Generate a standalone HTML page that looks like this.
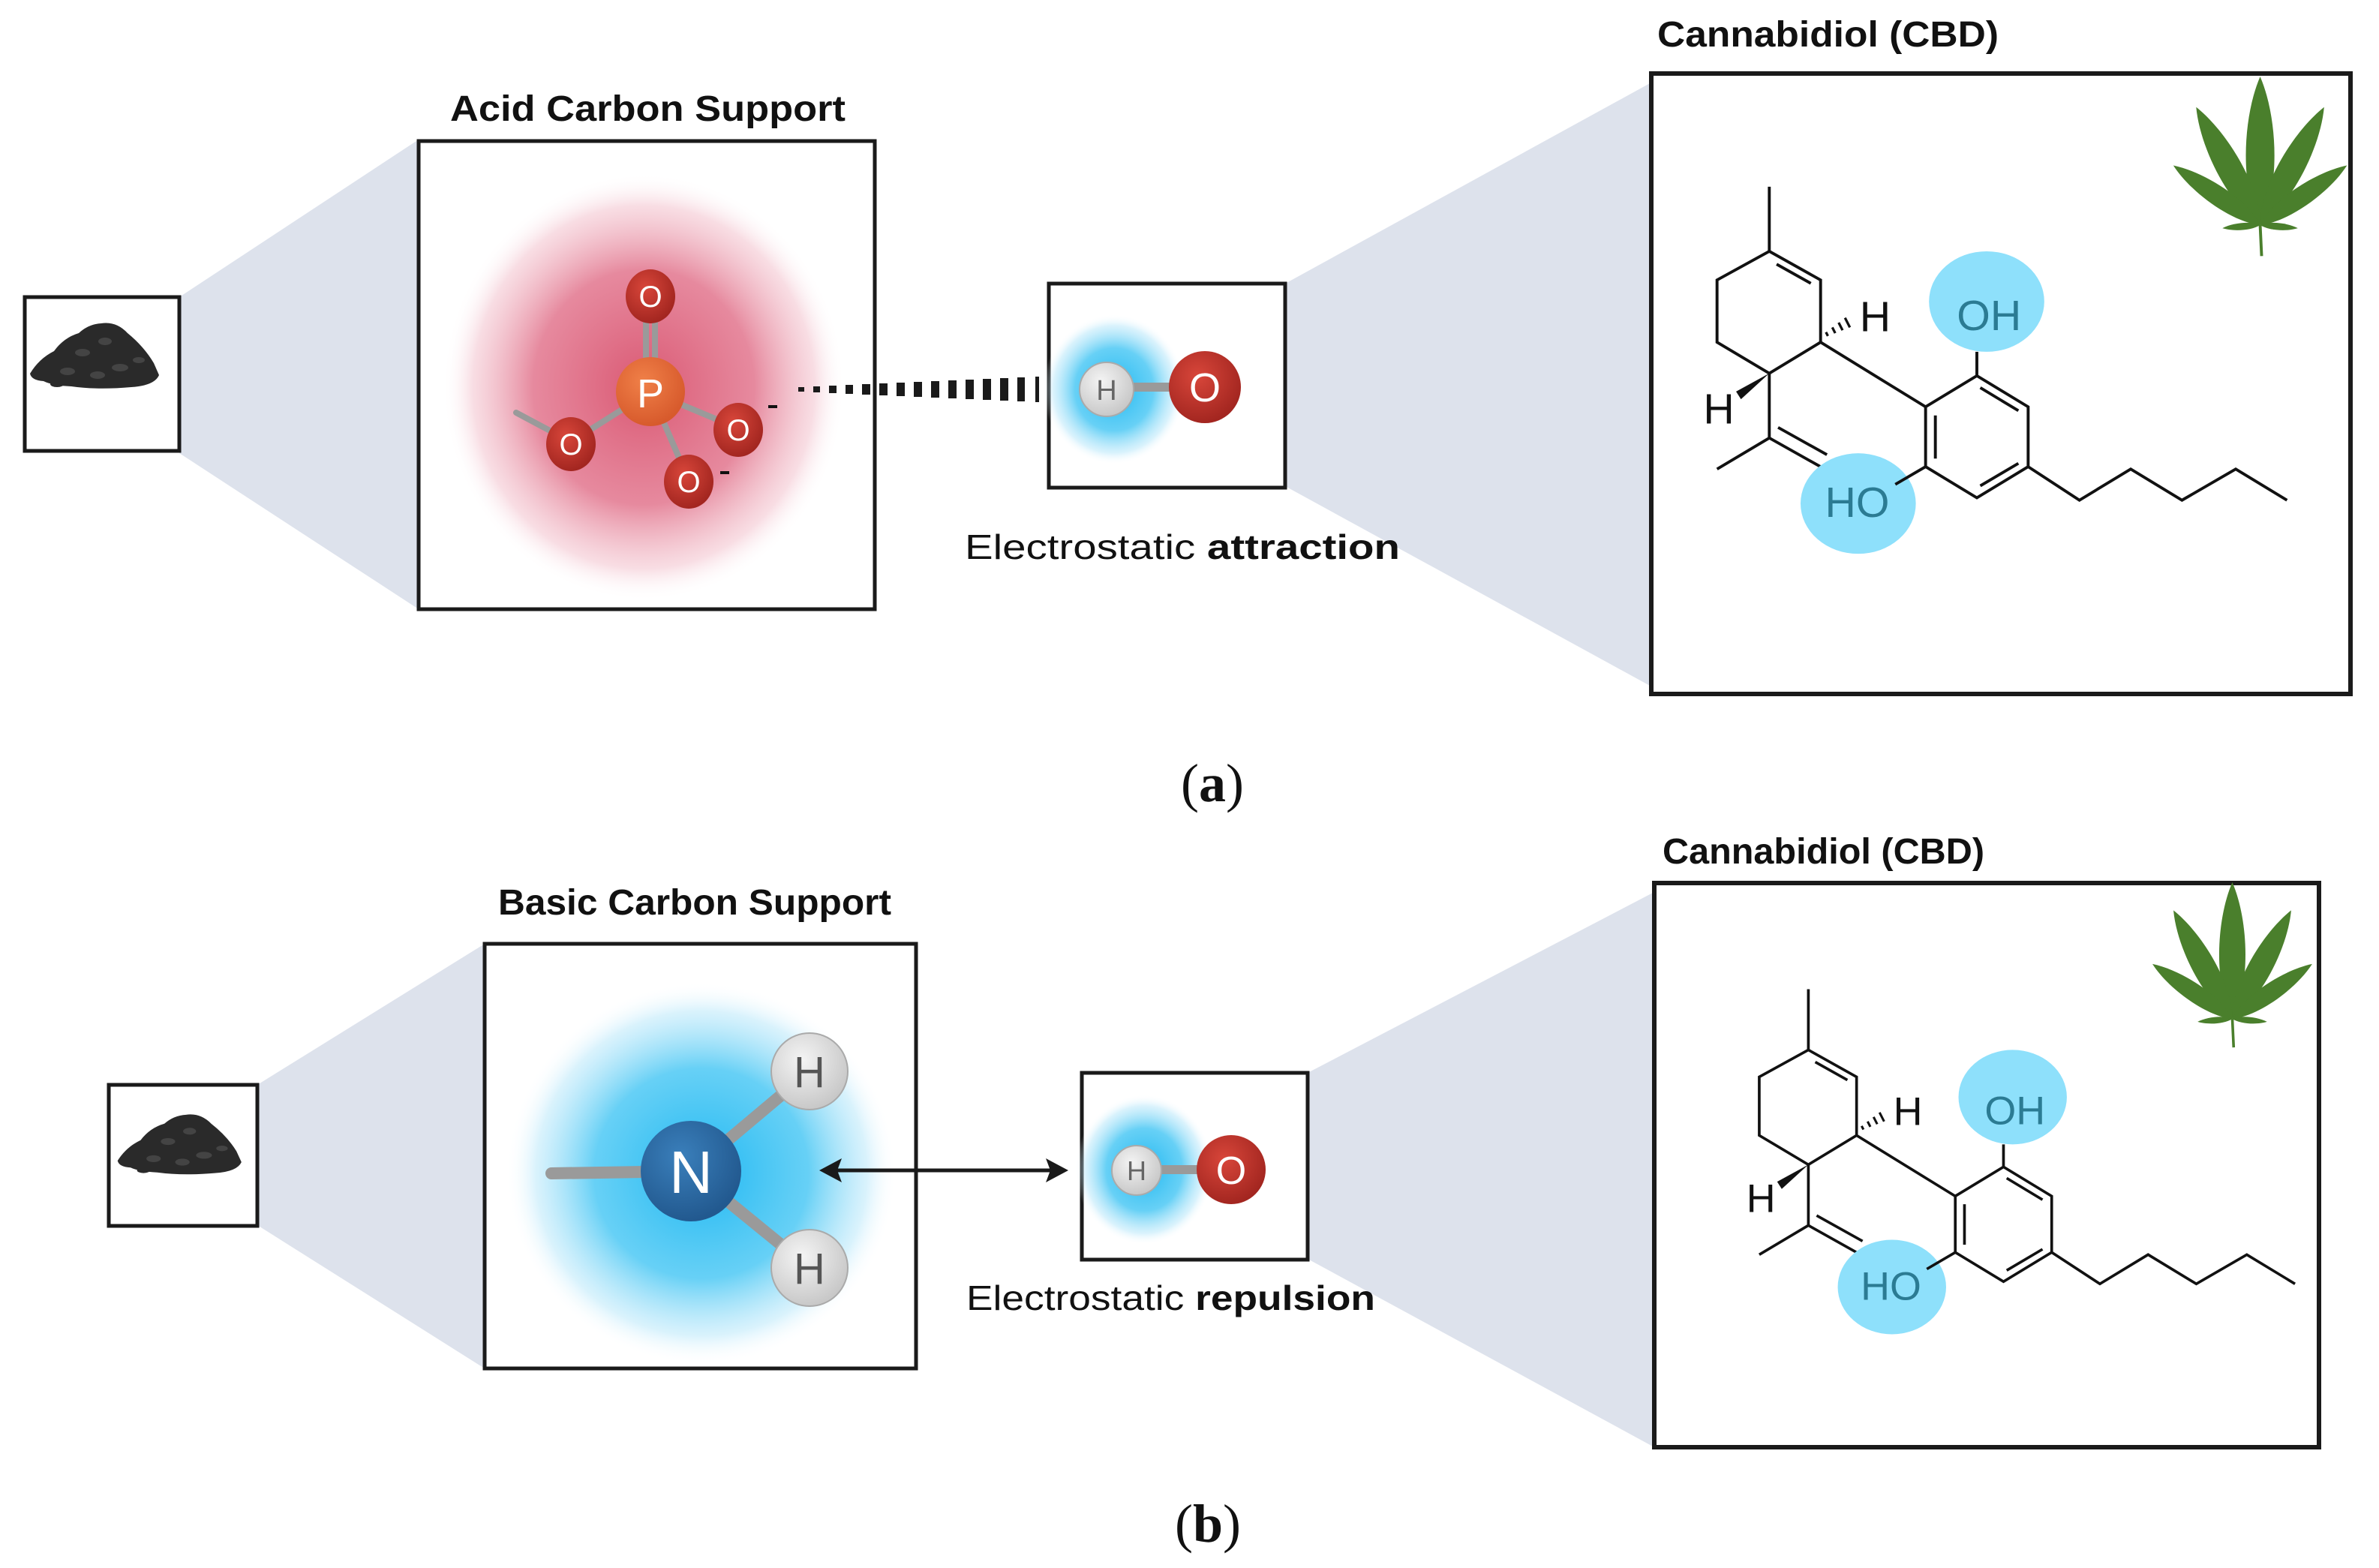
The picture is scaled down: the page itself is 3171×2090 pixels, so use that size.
<!DOCTYPE html>
<html><head><meta charset="utf-8"><style>
html,body{margin:0;padding:0;background:#fff;}
svg{display:block;}
</style></head><body>
<svg width="3171" height="2090" viewBox="0 0 3171 2090" xmlns="http://www.w3.org/2000/svg">
<defs>
<radialGradient id="pink" cx="50%" cy="50%" r="50%">
<stop offset="0" stop-color="#d8506c" stop-opacity="0.95"/>
<stop offset="0.55" stop-color="#e06c86" stop-opacity="0.8"/>
<stop offset="0.85" stop-color="#f0b4c2" stop-opacity="0.45"/>
<stop offset="1" stop-color="#ffffff" stop-opacity="0"/>
</radialGradient>
<radialGradient id="blue" cx="50%" cy="50%" r="50%">
<stop offset="0" stop-color="#20b8f2" stop-opacity="1"/>
<stop offset="0.55" stop-color="#4cc8f4" stop-opacity="0.85"/>
<stop offset="0.85" stop-color="#b4e6fa" stop-opacity="0.5"/>
<stop offset="1" stop-color="#ffffff" stop-opacity="0"/>
</radialGradient>
<radialGradient id="oball" cx="40%" cy="35%" r="65%">
<stop offset="0" stop-color="#d8463a"/><stop offset="1" stop-color="#a32620"/>
</radialGradient>
<radialGradient id="hball" cx="40%" cy="35%" r="65%">
<stop offset="0" stop-color="#f4f4f4"/><stop offset="1" stop-color="#c8c8c8"/>
</radialGradient>
<radialGradient id="pball" cx="40%" cy="35%" r="65%">
<stop offset="0" stop-color="#f08048"/><stop offset="1" stop-color="#d75a2c"/>
</radialGradient>
<radialGradient id="nball" cx="40%" cy="35%" r="65%">
<stop offset="0" stop-color="#3a7fbb"/><stop offset="1" stop-color="#22598f"/>
</radialGradient>
<g id="leaflet"><path d="M0,0 C40,-70 38,-220 0,-310 C-38,-220 -40,-70 0,0Z" fill="#4a7f2c"/></g>
<g id="leaf">
<use href="#leaflet"/>
<use href="#leaflet" transform="rotate(-28) scale(0.9)"/>
<use href="#leaflet" transform="rotate(28) scale(0.9)"/>
<use href="#leaflet" transform="rotate(-55) scale(0.7)"/>
<use href="#leaflet" transform="rotate(55) scale(0.7)"/>
<use href="#leaflet" transform="rotate(-95) scale(0.25)"/>
<use href="#leaflet" transform="rotate(95) scale(0.25)"/>
<line x1="0" y1="0" x2="3" y2="65" stroke="#4a7f2c" stroke-width="6"/>
</g>
<g id="pile">
<path d="M40,498 Q52,478 72,468 Q85,450 105,444 Q118,432 135,431 Q155,428 170,444 Q192,462 205,484 L212,500 Q206,514 175,516 Q130,520 95,515 Q70,514 58,508 Q42,507 40,498Z" fill="#2a2a2a"/>
<ellipse cx="76" cy="512" rx="9" ry="4" fill="#2a2a2a"/>
<g fill="#444"><ellipse cx="110" cy="470" rx="10" ry="5"/><ellipse cx="140" cy="455" rx="9" ry="5"/><ellipse cx="160" cy="490" rx="11" ry="5"/><ellipse cx="90" cy="495" rx="10" ry="5"/><ellipse cx="130" cy="500" rx="10" ry="5"/><ellipse cx="185" cy="480" rx="8" ry="4"/></g>
</g>
</defs>

<g fill="#dde2ec">
<polygon points="239,396 558,186 558,812 239,604"/>
<polygon points="1713,378 2201,110 2201,915 1713,648"/>
<polygon points="343,1446 646,1258 646,1824 343,1633"/>
<polygon points="1743,1430 2205,1189 2205,1929 1743,1678"/>
</g>

<!-- ===== (a) ===== -->
<rect x="33" y="396" width="206" height="205" fill="#fff" stroke="#1a1a1a" stroke-width="5"/>
<use href="#pile"/>

<text x="600" y="161" font-family="Liberation Sans, sans-serif" font-weight="bold" font-size="48" textLength="527" lengthAdjust="spacingAndGlyphs" fill="#111">Acid Carbon Support</text>
<rect x="558" y="188" width="608" height="624" fill="#fff" stroke="#1a1a1a" stroke-width="5"/>
<ellipse cx="858" cy="516" rx="268" ry="285" fill="url(#pink)"/>
<g stroke="#9a9a9a" stroke-width="8" stroke-linecap="round">
<line x1="861" y1="430" x2="861" y2="480"/><line x1="873" y1="430" x2="873" y2="480"/>
<line x1="867" y1="522" x2="761" y2="589"/>
<line x1="761" y1="589" x2="688" y2="550"/>
<line x1="867" y1="522" x2="984" y2="571"/>
<line x1="867" y1="522" x2="918" y2="640"/>
</g>
<circle cx="867" cy="522" r="46" fill="url(#pball)"/>
<text x="867" y="543" text-anchor="middle" font-family="Liberation Sans, sans-serif" font-size="54" fill="#fff">P</text>
<g font-family="Liberation Sans, sans-serif" font-size="40" fill="#fff" text-anchor="middle">
<ellipse cx="867" cy="395" rx="33" ry="36" fill="url(#oball)"/><text x="867" y="409">O</text>
<ellipse cx="761" cy="592" rx="33" ry="36" fill="url(#oball)"/><text x="761" y="606">O</text>
<ellipse cx="984" cy="573" rx="33" ry="36" fill="url(#oball)"/><text x="984" y="587">O</text>
<ellipse cx="918" cy="642" rx="33" ry="36" fill="url(#oball)"/><text x="918" y="656">O</text>
</g>
<g stroke="#111" stroke-width="4"><line x1="1024" y1="542" x2="1036" y2="542"/><line x1="960" y1="630" x2="972" y2="630"/></g>

<g fill="#1a1a1a">
<rect x="1064" y="516" width="8" height="6"/>
<rect x="1084" y="515" width="9" height="8"/>
<rect x="1105" y="514" width="10" height="10"/>
<rect x="1127" y="513" width="10" height="12"/>
<rect x="1149" y="512" width="11" height="14"/>
<rect x="1172" y="511" width="11" height="16"/>
<rect x="1195" y="510" width="11" height="18"/>
<rect x="1218" y="509" width="11" height="20"/>
<rect x="1241" y="508" width="11" height="22"/>
<rect x="1264" y="507" width="11" height="24"/>
<rect x="1287" y="506" width="11" height="26"/>
<rect x="1310" y="505" width="11" height="28"/>
<rect x="1333" y="504" width="11" height="30"/>
<rect x="1356" y="503" width="10" height="32"/>
<rect x="1380" y="502" width="5" height="34"/>
</g>

<rect x="1398" y="378" width="315" height="272" fill="#fff" stroke="#1a1a1a" stroke-width="5"/>
<ellipse cx="1485" cy="519" rx="95" ry="100" fill="url(#blue)"/>
<line x1="1473" y1="516" x2="1606" y2="516" stroke="#9a9a9a" stroke-width="12"/>
<circle cx="1475" cy="519" r="36" fill="url(#hball)" stroke="#aaa" stroke-width="2"/>
<text x="1475" y="533" text-anchor="middle" font-family="Liberation Sans, sans-serif" font-size="38" fill="#666">H</text>
<ellipse cx="1606" cy="516" rx="48" ry="48" fill="url(#oball)"/>
<text x="1606" y="535" text-anchor="middle" font-family="Liberation Sans, sans-serif" font-size="54" fill="#fff">O</text>
<text x="1286" y="745" font-family="Liberation Sans, sans-serif" font-size="46" textLength="580" lengthAdjust="spacingAndGlyphs" fill="#111">Electrostatic <tspan font-weight="bold">attraction</tspan></text>

<text x="1616" y="1068" text-anchor="middle" font-family="Liberation Serif, serif" font-size="72" fill="#111">(<tspan font-weight="bold">a</tspan>)</text>

<text x="2209" y="62" font-family="Liberation Sans, sans-serif" font-weight="bold" font-size="48" textLength="455" lengthAdjust="spacingAndGlyphs" fill="#111">Cannabidiol (CBD)</text>
<rect x="2201" y="98" width="932" height="827" fill="#fff" stroke="#1a1a1a" stroke-width="6"/>

<g transform="translate(2150,0) scale(0.651,0.638)">
<use href="#leaf" transform="translate(1325,470)"/>
<g stroke="#111" stroke-width="6" fill="none" stroke-linejoin="miter">
<path d="M320,390 L320,525"/>
<path d="M320,525 L425,585 L425,715 L320,780 L213,715 L213,585 Z"/>
<path d="M335,552 L405,592"/>
<path d="M320,780 L320,915 L213,980"/>
<path d="M320,915 L430,978"/><path d="M338,893 L438,950"/>
<path d="M425,715 L640,850"/>
<path d="M640,850 L745,785 L850,850 L850,975 L745,1040 L640,975 Z"/>
<path d="M660,868 L660,958"/><path d="M752,810 L830,858"/><path d="M752,1015 L830,968"/>
<path d="M850,975 L955,1045 L1060,980 L1165,1045 L1275,980 L1380,1045"/>
</g>
<g stroke="#111" stroke-width="5">
<line x1="440" y1="702" x2="436" y2="694"/><line x1="455" y1="696" x2="449" y2="684"/><line x1="470" y1="690" x2="462" y2="674"/><line x1="485" y1="684" x2="475" y2="664"/>
</g>
<polygon points="320,780 252,818 262,834" fill="#111"/>
<text x="505" y="692" font-family="Liberation Sans, sans-serif" font-size="88" fill="#111">H</text>
<text x="185" y="885" font-family="Liberation Sans, sans-serif" font-size="88" fill="#111">H</text>
<ellipse cx="765" cy="630" rx="118" ry="105" fill="#8ee0fb"/>
<ellipse cx="502" cy="1052" rx="118" ry="105" fill="#8ee0fb"/>
<path d="M745,735 L745,785" stroke="#111" stroke-width="6"/>
<path d="M640,975 L578,1012" stroke="#111" stroke-width="6"/>
<text x="770" y="690" text-anchor="middle" font-family="Liberation Sans, sans-serif" font-size="88" fill="#2b7b93">OH</text>
<text x="500" y="1080" text-anchor="middle" font-family="Liberation Sans, sans-serif" font-size="88" fill="#2b7b93">HO</text>
</g>

<!-- ===== (b) ===== -->
<rect x="145" y="1446" width="198" height="188" fill="#fff" stroke="#1a1a1a" stroke-width="5"/>
<use href="#pile" transform="translate(150,1452) scale(0.96,0.915) translate(-33,-394)"/>

<text x="664" y="1219" font-family="Liberation Sans, sans-serif" font-weight="bold" font-size="48" textLength="524" lengthAdjust="spacingAndGlyphs" fill="#111">Basic Carbon Support</text>
<rect x="646" y="1258" width="575" height="566" fill="#fff" stroke="#1a1a1a" stroke-width="5"/>
<ellipse cx="935" cy="1564" rx="260" ry="255" fill="url(#blue)"/>
<g stroke="#9a9a9a" stroke-width="16" stroke-linecap="round">
<line x1="735" y1="1564" x2="921" y2="1561"/>
<line x1="921" y1="1561" x2="1079" y2="1428"/>
<line x1="921" y1="1561" x2="1079" y2="1690"/>
</g>
<circle cx="921" cy="1561" r="67" fill="url(#nball)"/>
<text x="921" y="1590" text-anchor="middle" font-family="Liberation Sans, sans-serif" font-size="80" fill="#fff">N</text>
<circle cx="1079" cy="1428" r="51" fill="url(#hball)" stroke="#aaa" stroke-width="2"/>
<text x="1079" y="1449" text-anchor="middle" font-family="Liberation Sans, sans-serif" font-size="58" fill="#555">H</text>
<circle cx="1079" cy="1690" r="51" fill="url(#hball)" stroke="#aaa" stroke-width="2"/>
<text x="1079" y="1711" text-anchor="middle" font-family="Liberation Sans, sans-serif" font-size="58" fill="#555">H</text>

<line x1="1110" y1="1560" x2="1405" y2="1560" stroke="#1a1a1a" stroke-width="5"/>
<polygon points="1092,1560 1122,1544 1116,1560 1122,1576" fill="#1a1a1a"/>
<polygon points="1424,1560 1394,1544 1400,1560 1394,1576" fill="#1a1a1a"/>

<rect x="1442" y="1430" width="301" height="249" fill="#fff" stroke="#1a1a1a" stroke-width="5"/>
<ellipse cx="1525" cy="1559" rx="92" ry="100" fill="url(#blue)"/>
<line x1="1513" y1="1559" x2="1639" y2="1559" stroke="#9a9a9a" stroke-width="12"/>
<circle cx="1515" cy="1560" r="33" fill="url(#hball)" stroke="#aaa" stroke-width="2"/>
<text x="1515" y="1573" text-anchor="middle" font-family="Liberation Sans, sans-serif" font-size="36" fill="#666">H</text>
<ellipse cx="1641" cy="1559" rx="46" ry="46" fill="url(#oball)"/>
<text x="1641" y="1578" text-anchor="middle" font-family="Liberation Sans, sans-serif" font-size="52" fill="#fff">O</text>
<text x="1288" y="1746" font-family="Liberation Sans, sans-serif" font-size="46" textLength="545" lengthAdjust="spacingAndGlyphs" fill="#111">Electrostatic <tspan font-weight="bold">repulsion</tspan></text>

<text x="1610" y="2055" text-anchor="middle" font-family="Liberation Serif, serif" font-size="72" fill="#111">(<tspan font-weight="bold">b</tspan>)</text>

<text x="2216" y="1151" font-family="Liberation Sans, sans-serif" font-weight="bold" font-size="48" textLength="429" lengthAdjust="spacingAndGlyphs" fill="#111">Cannabidiol (CBD)</text>
<rect x="2205" y="1177" width="886" height="752" fill="#fff" stroke="#1a1a1a" stroke-width="6"/>

<g transform="translate(2150,1090) scale(0.651,0.638)">
<use href="#leaf" transform="translate(1268,420) scale(0.92)"/>
<g transform="translate(400,485) scale(0.94) translate(-320,-525)">
<g stroke="#111" stroke-width="6" fill="none">
<path d="M320,390 L320,525"/>
<path d="M320,525 L425,585 L425,715 L320,780 L213,715 L213,585 Z"/>
<path d="M335,552 L405,592"/>
<path d="M320,780 L320,915 L213,980"/>
<path d="M320,915 L430,978"/><path d="M338,893 L438,950"/>
<path d="M425,715 L640,850"/>
<path d="M640,850 L745,785 L850,850 L850,975 L745,1040 L640,975 Z"/>
<path d="M660,868 L660,958"/><path d="M752,810 L830,858"/><path d="M752,1015 L830,968"/>
<path d="M850,975 L955,1045 L1060,980 L1165,1045 L1275,980 L1380,1045"/>
</g>
<g stroke="#111" stroke-width="5">
<line x1="440" y1="702" x2="436" y2="694"/><line x1="455" y1="696" x2="449" y2="684"/><line x1="470" y1="690" x2="462" y2="674"/><line x1="485" y1="684" x2="475" y2="664"/>
</g>
<polygon points="320,780 252,818 262,834" fill="#111"/>
<text x="505" y="692" font-family="Liberation Sans, sans-serif" font-size="88" fill="#111">H</text>
<text x="185" y="885" font-family="Liberation Sans, sans-serif" font-size="88" fill="#111">H</text>
<ellipse cx="765" cy="630" rx="118" ry="105" fill="#8ee0fb"/>
<ellipse cx="502" cy="1052" rx="118" ry="105" fill="#8ee0fb"/>
<path d="M745,735 L745,785" stroke="#111" stroke-width="6"/>
<path d="M640,975 L578,1012" stroke="#111" stroke-width="6"/>
<text x="770" y="690" text-anchor="middle" font-family="Liberation Sans, sans-serif" font-size="88" fill="#2b7b93">OH</text>
<text x="500" y="1080" text-anchor="middle" font-family="Liberation Sans, sans-serif" font-size="88" fill="#2b7b93">HO</text>
</g>
</g>
</svg>
</body></html>
